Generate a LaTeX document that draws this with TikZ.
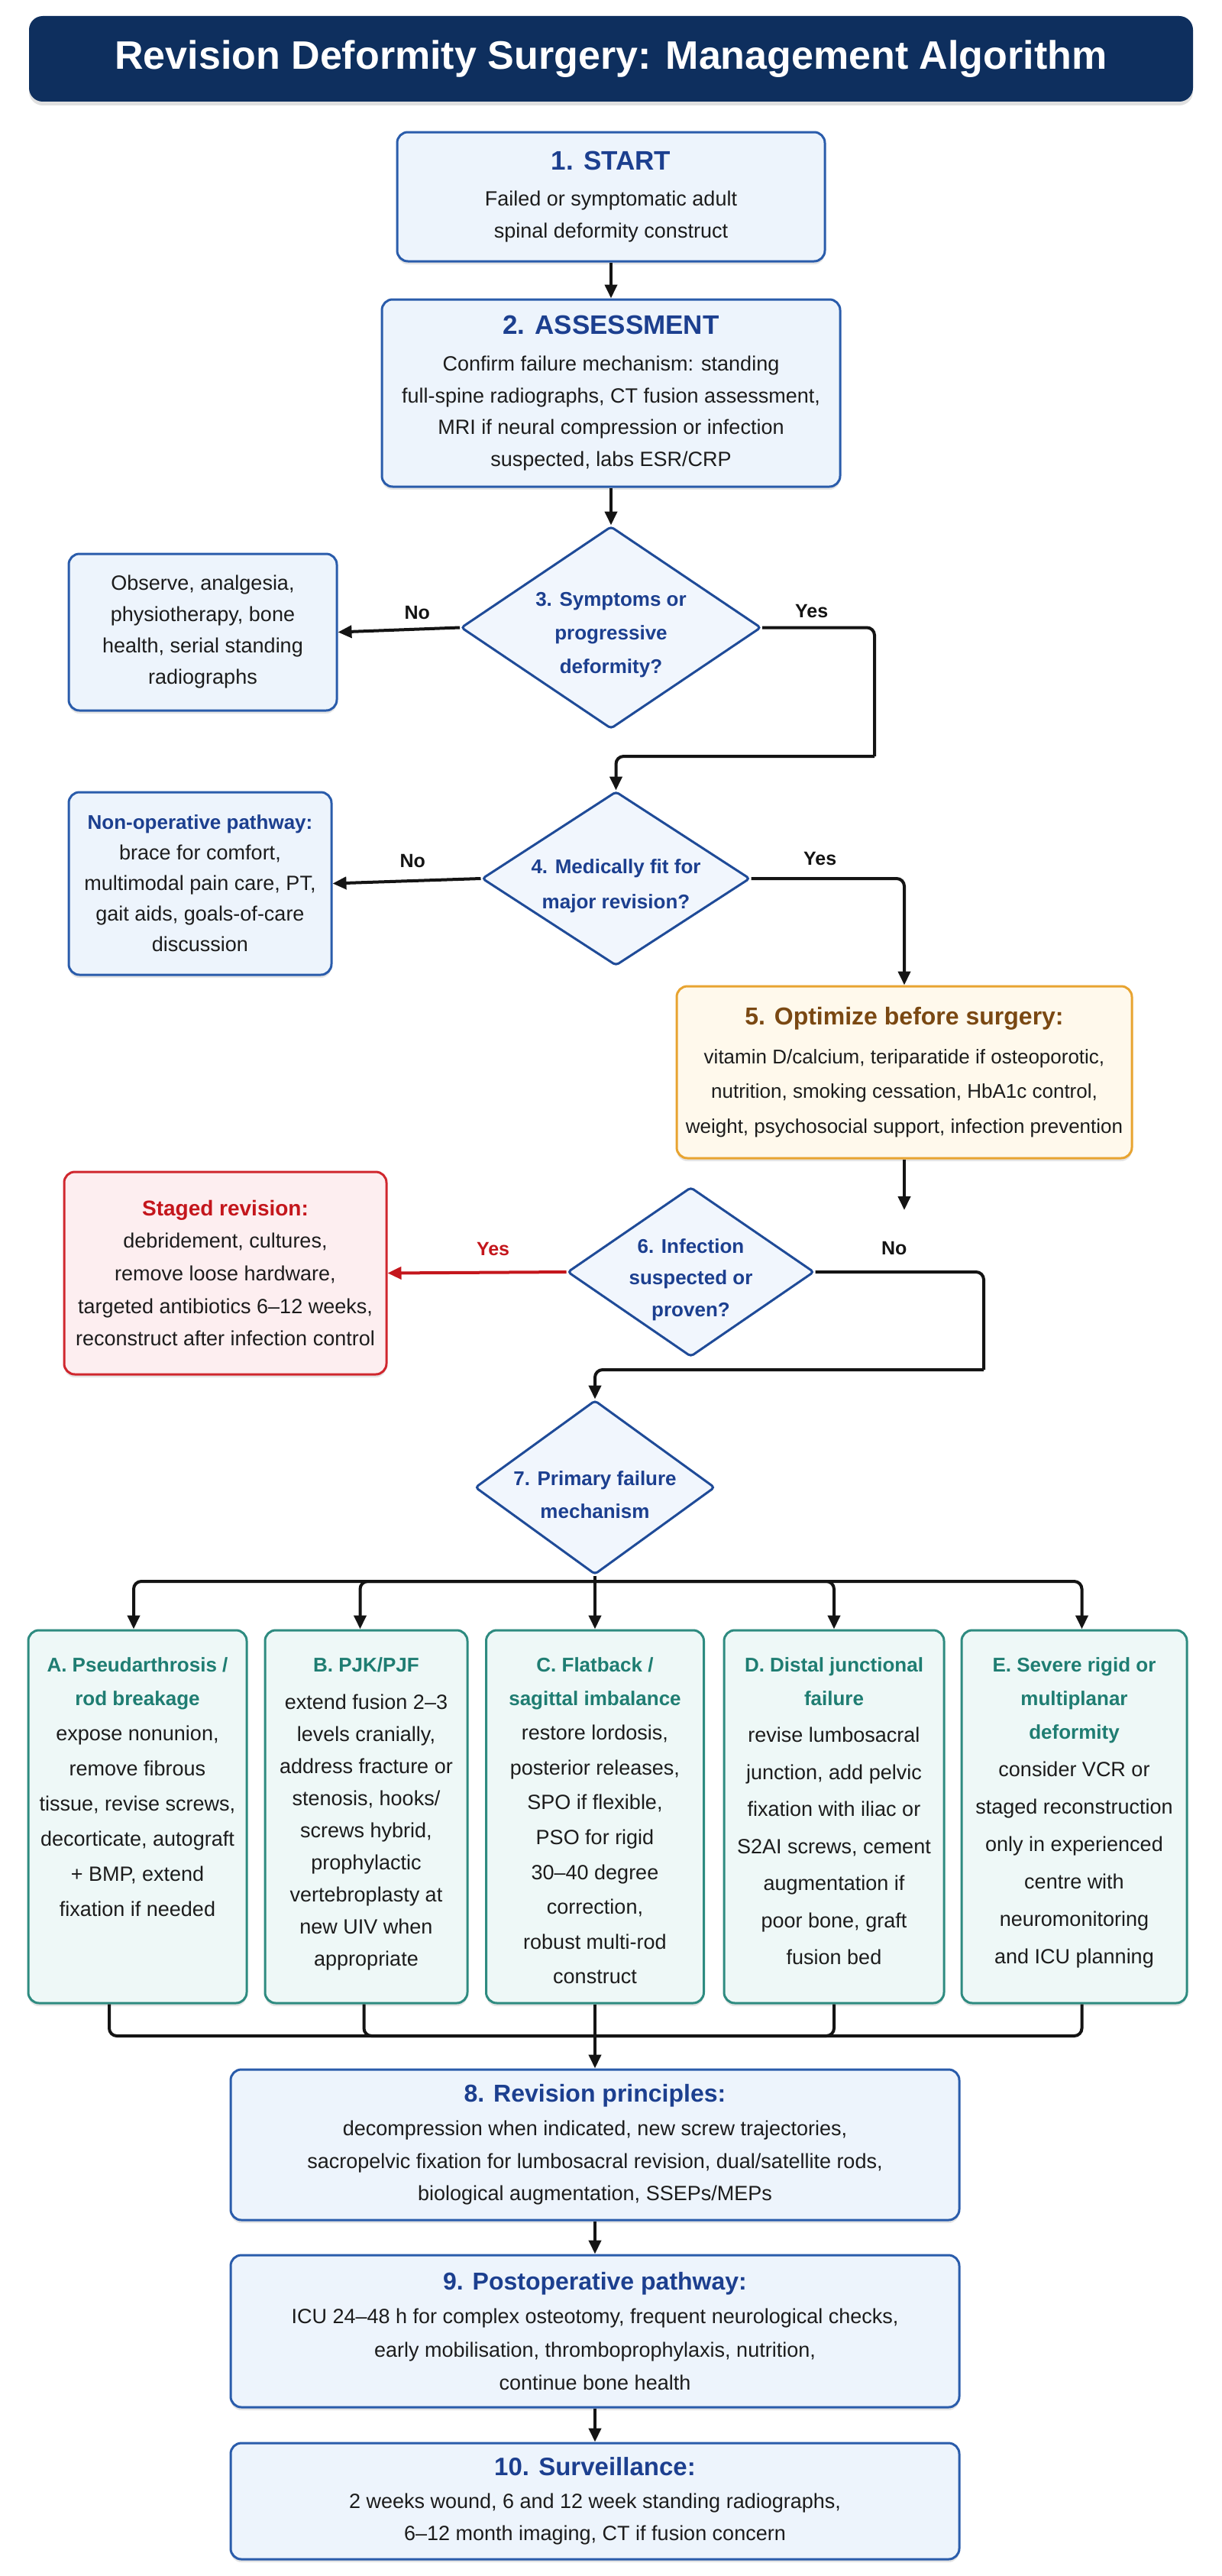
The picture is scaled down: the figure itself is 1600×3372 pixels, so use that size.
\documentclass[tikz,border=0pt]{standalone}
\usepackage{fontspec}
\setmainfont{Liberation Sans}
\usetikzlibrary{shapes.geometric,arrows.meta,shadows}
\definecolor{navy}{HTML}{0E2F5E}
\definecolor{bborder}{HTML}{2A5CAB}
\definecolor{bfill}{HTML}{EDF4FC}
\definecolor{hblue}{HTML}{1C3F8F}
\definecolor{dborder}{HTML}{1F4B98}
\definecolor{dfill}{HTML}{F1F6FD}
\definecolor{tborder}{HTML}{2E8B80}
\definecolor{tfill}{HTML}{EEF8F7}
\definecolor{tteal}{HTML}{1F7D72}
\definecolor{oborder}{HTML}{E8A431}
\definecolor{ofill}{HTML}{FFF9EC}
\definecolor{obrown}{HTML}{7A4812}
\definecolor{rborder}{HTML}{D0272E}
\definecolor{rfill}{HTML}{FDEEF0}
\definecolor{rtext}{HTML}{C4161C}
\definecolor{ink}{HTML}{1C1C1C}
\definecolor{conncol}{HTML}{141414}
\newcommand{\hdA}{\fontsize{35}{42}\selectfont\bfseries\color{hblue}}
\newcommand{\hdB}{\fontsize{32}{42}\selectfont\bfseries\color{hblue}}
\newcommand{\mechtext}[4]{\parbox[c][488pt][t]{#1}{\centering{\fontsize{26}{44}\selectfont\bfseries\color{tteal}\rule{0pt}{54pt}#2\par}\fontsize{27}{#3}\selectfont #4\par}}
\tikzset{
  softshadow/.style={drop shadow={shadow xshift=0pt,shadow yshift=-4pt,opacity=.10,fill=black}},
  anybox/.style={line width=3pt, rounded corners=14pt, align=center, inner sep=0pt, text=ink, softshadow},
  bbox/.style={anybox, draw=bborder, fill=bfill},
  obox/.style={anybox, draw=oborder, fill=ofill},
  rbox/.style={anybox, draw=rborder, fill=rfill},
  tbox/.style={anybox, draw=tborder, fill=tfill},
  dia/.style={shape=diamond, draw=dborder, fill=dfill, line width=3pt, rounded corners=4pt, inner sep=-10pt, align=center, text=hblue},
  titlebar/.style={fill=navy, rounded corners=18pt, text=white, font=\fontsize{52}{60}\selectfont\bfseries, minimum width=1524pt, minimum height=112pt, inner sep=0pt, drop shadow={shadow xshift=0pt,shadow yshift=-5pt,opacity=.12,fill=black}},
  conn/.style={draw=conncol, line width=4pt, rounded corners=10pt},
  arr/.style={conn, -{Triangle[length=18pt,width=16pt]}},
  redarr/.style={arr, draw=rtext},
  lbl/.style={font=\fontsize{25}{30}\selectfont\bfseries, text=conncol, inner sep=0pt}
}
\begin{document}
\begin{tikzpicture}[x=1pt,y=-1pt]
\useasboundingbox (0,0) rectangle (1600,3372);
\fill[white] (0,0) rectangle (1600,3372);

\node[titlebar] (title) at (800,77) {Revision Deformity Surgery: Management Algorithm};

\node[bbox, font=\fontsize{27}{42}\selectfont, minimum width=560pt, minimum height=169pt] (start) at (800,257.5)
  {{\hdA 1. START}\\[5pt]Failed or symptomatic adult\\spinal deformity construct};

\node[bbox, font=\fontsize{27}{41.5}\selectfont, minimum width=600pt, minimum height=245pt] (assess) at (800,514.5)
  {{\hdA 2. ASSESSMENT}\\[6.5pt]Confirm failure mechanism: standing\\full-spine radiographs, CT fusion assessment,\\MRI if neural compression or infection\\suspected, labs ESR/CRP};

\node[dia, shape aspect=1.483, minimum width=393pt, minimum height=265pt, font=\fontsize{26}{44}\selectfont\bfseries] (d3) at (800,821.5)
  {\rule{0pt}{38pt}3. Symptoms or\\progressive\\deformity?};

\node[bbox, font=\fontsize{27}{41}\selectfont, minimum width=351pt, minimum height=205pt] (obs) at (265.5,827.5)
  {Observe, analgesia,\\physiotherapy, bone\\health, serial standing\\radiographs};

\node[dia, shape aspect=1.54, minimum width=351pt, minimum height=228pt, font=\fontsize{26}{46}\selectfont\bfseries] (d4) at (806.5,1150)
  {\rule{0pt}{38pt}4. Medically fit for\\major revision?};

\node[bbox, font=\fontsize{27}{40}\selectfont, minimum width=344pt, minimum height=239pt] (nonop) at (262,1156.5)
  {{\fontsize{26}{40}\selectfont\bfseries\color{hblue}Non-operative pathway:}\\brace for comfort,\\multimodal pain care, PT,\\gait aids, goals-of-care\\discussion};

\node[obox, font=\fontsize{26}{45.5}\selectfont, minimum width=596pt, minimum height=225pt] (opt) at (1184,1403.5)
  {{\fontsize{32}{42}\selectfont\bfseries\color{obrown}5. Optimize before surgery:}\\[5.5pt]vitamin D/calcium, teriparatide if osteoporotic,\\nutrition, smoking cessation, HbA1c control,\\weight, psychosocial support, infection prevention};

\node[dia, shape aspect=1.455, minimum width=323pt, minimum height=222pt, font=\fontsize{26}{41.5}\selectfont\bfseries] (d6) at (904.5,1665)
  {\rule{0pt}{39pt}6. Infection\\suspected or\\proven?};

\node[rbox, font=\fontsize{27}{42.7}\selectfont, minimum width=422pt, minimum height=265pt] (staged) at (295,1666.5)
  {{\fontsize{28}{42}\selectfont\bfseries\color{rtext}Staged revision:}\\debridement, cultures,\\remove loose hardware,\\targeted antibiotics 6--12 weeks,\\reconstruct after infection control};

\node[dia, shape aspect=1.377, minimum width=314pt, minimum height=228pt, font=\fontsize{26}{43}\selectfont\bfseries] (d7) at (779,1947)
  {\rule{0pt}{38pt}7. Primary failure\\mechanism};

\node[tbox, minimum width=286pt, minimum height=488pt] (ma) at (180,2378)
  {\mechtext{282pt}{A. Pseudarthrosis /\\rod breakage}{46}{expose nonunion,\\remove fibrous\\tissue, revise screws,\\decorticate, autograft\\+ BMP, extend\\fixation if needed}};
\node[tbox, minimum width=265pt, minimum height=488pt] (mb) at (479.5,2378)
  {\mechtext{261pt}{B. PJK/PJF}{42}{\vspace*{7pt}extend fusion 2--3\\levels cranially,\\address fracture or\\stenosis, hooks/\\screws hybrid,\\prophylactic\\vertebroplasty at\\new UIV when\\appropriate}};
\node[tbox, minimum width=285pt, minimum height=488pt] (mc) at (779,2378)
  {\mechtext{281pt}{C. Flatback /\\sagittal imbalance}{45.6}{restore lordosis,\\posterior releases,\\SPO if flexible,\\PSO for rigid\\30--40 degree\\correction,\\robust multi-rod\\construct}};
\node[tbox, minimum width=288pt, minimum height=488pt] (md) at (1092,2378)
  {\mechtext{284pt}{D. Distal junctional\\failure}{48.5}{revise lumbosacral\\junction, add pelvic\\fixation with iliac or\\S2AI screws, cement\\augmentation if\\poor bone, graft\\fusion bed}};
\node[tbox, minimum width=295pt, minimum height=488pt] (me) at (1406.5,2378)
  {\mechtext{291pt}{E. Severe rigid or\\multiplanar\\deformity}{49}{consider VCR or\\staged reconstruction\\only in experienced\\centre with\\neuromonitoring\\and ICU planning}};

\node[bbox, font=\fontsize{27}{42.5}\selectfont, minimum width=954pt, minimum height=197pt] (b8) at (779,2807.5)
  {{\hdB 8. Revision principles:}\\[1.5pt]decompression when indicated, new screw trajectories,\\sacropelvic fixation for lumbosacral revision, dual/satellite rods,\\biological augmentation, SSEPs/MEPs};
\node[bbox, font=\fontsize{27}{43.5}\selectfont, minimum width=954pt, minimum height=199pt] (b9) at (779,3051.5)
  {{\hdB 9. Postoperative pathway:}\\[0.5pt]ICU 24--48 h for complex osteotomy, frequent neurological checks,\\early mobilisation, thromboprophylaxis, nutrition,\\continue bone health};
\node[bbox, font=\fontsize{27}{42}\selectfont, minimum width=954pt, minimum height=152pt] (b10) at (779,3274)
  {{\fontsize{33}{42}\selectfont\bfseries\color{hblue}10. Surveillance:}\\[1pt]2 weeks wound, 6 and 12 week standing radiographs,\\6--12 month imaging, CT if fusion concern};

% routing coordinates
\coordinate (r3) at (1145,990);
\coordinate (e5) at (1184,1584);
\coordinate (r6) at (1288,1793);
\coordinate (tb) at (779,2070);
\coordinate (bb) at (779,2665);

% connectors
\draw[arr] (start.south) -- (assess.north);
\draw[arr] (assess.south) -- (d3.north);
\draw[arr] (d3.west) -- node[lbl, above=11pt, pos=0.35]{No} (obs.east);
\draw[conn] (d3.east) -| node[lbl, above=11pt, pos=0.22]{Yes} (r3);
\draw[arr] (r3) -| (d4.north);
\draw[arr] (d4.west) -- node[lbl, above=15pt, pos=0.46]{No} (nonop.east);
\draw[arr] (d4.east) -| node[lbl, above=15pt, pos=0.225]{Yes} (opt.north);
\draw[arr] (opt.south) -- (e5);
\draw[redarr] (d6.west) -- node[lbl, text=rtext, above=20pt, pos=0.41]{Yes} (staged.east);
\draw[conn] (d6.east) -| node[lbl, above=20pt, pos=0.234]{No} (r6);
\draw[arr] (r6) -| (d7.north);

\draw[conn] (d7.south) -- (tb);
\draw[arr] (tb) -| ([xshift=-5pt]ma.north);
\draw[arr] (tb) -| ([xshift=-8pt]mb.north);
\draw[arr] (tb) -- (mc.north);
\draw[arr] (tb) -| (md.north);
\draw[arr] (tb) -| ([xshift=10pt]me.north);

\draw[conn] ([xshift=-37pt]ma.south) |- (bb);
\draw[conn] ([xshift=-3pt]mb.south) |- (bb);
\draw[conn] (mc.south) -- (bb);
\draw[conn] (md.south) |- (bb);
\draw[conn] ([xshift=10pt]me.south) |- (bb);
\draw[arr] (bb) -- (b8.north);
\draw[arr] (b8.south) -- (b9.north);
\draw[arr] (b9.south) -- (b10.north);
\end{tikzpicture}
\end{document}
